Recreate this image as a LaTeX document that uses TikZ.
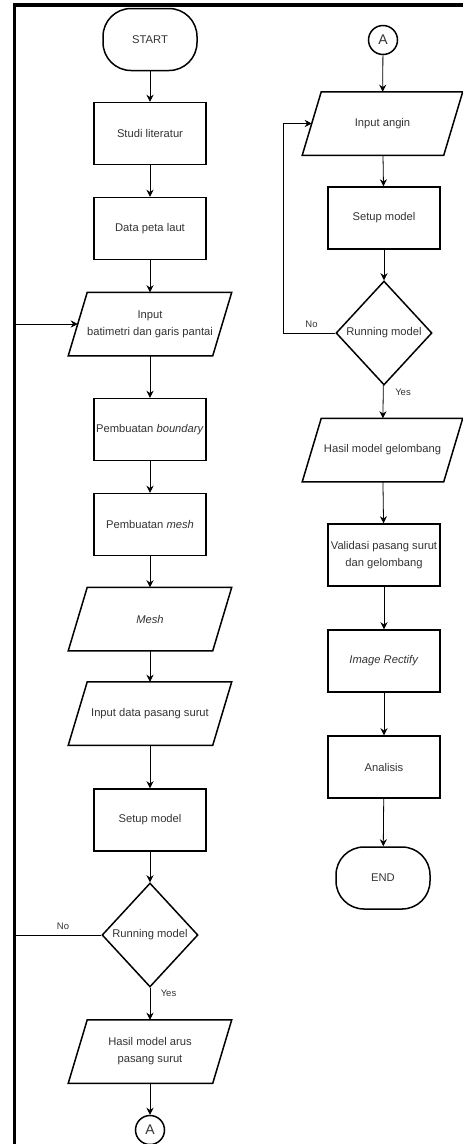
\documentclass[tikz,border=0pt]{standalone}
\usepackage{fontspec}
\setmainfont{Liberation Sans}
\usetikzlibrary{shapes.geometric,arrows.meta,calc}
\definecolor{txt}{HTML}{333333}
\begin{document}
\begin{tikzpicture}[x=1pt,y=-1pt]
\tikzset{
 base/.style={font=\fontsize{11.2}{17}\selectfont, text=txt, align=center, line width=1.5pt},
 procbox/.style={base, draw, rectangle, minimum width=112pt, minimum height=62pt, inner sep=1pt},
 termbox/.style={base, draw, rectangle, rounded corners=28pt, minimum width=94pt, minimum height=62pt},
 iobox/.style={base, rectangle, minimum width=143pt, minimum height=62pt, inner sep=1pt},
 decbox/.style={base, draw, diamond, minimum width=96pt, minimum height=104pt, inner sep=0pt},
 conn/.style={base, draw, circle, minimum size=29pt, inner sep=0pt, font=\fontsize{14}{16}\selectfont},
 arr/.style={draw=black, line width=0.8pt, -{Stealth[length=7pt,width=7pt]}},
 fbline/.style={draw=black, line width=0.8pt},
 lbl/.style={font=\fontsize{9.5}{11}\selectfont, text=txt},
 frame/.style={draw=black, line width=3.5pt, line join=miter},
 ioline/.style={draw=black, line width=1.5pt, line join=miter},
}
\useasboundingbox (0,0) rectangle (463,1144);
% frame
\draw[frame] (14.3,1146) -- (14.3,4.8) -- (465,4.8);

% left column
\node[termbox] (start) at (150,39.5) {START};
\node[procbox] (s1) at (150,133.5) {Studi literatur};
\node[procbox] (s2) at (150,228.5) {Data peta laut};
\node[iobox] (in1) at (150,324) {Input\\batimetri dan garis pantai};
\node[procbox] (s3) at (150,429.5) {Pembuatan \textit{boundary}};
\node[procbox] (s4) at (150,524.5) {Pembuatan \textit{mesh}};
\node[iobox] (mesh2) at (150,619) {\textit{Mesh}};
\node[iobox] (in2) at (150,713.5) {Input data pasang surut};
\node[procbox] (s5) at (150,820) {Setup model};
\node[decbox] (dec1) at (150,935) {\makebox[0pt]{Running model}};
\node[iobox] (out1) at (150,1051.5) {Hasil model arus\\pasang surut};
\node[conn] (ca1) at (150,1130) {A};

% right column
\node[conn] (ca2) at (383,40) {A};
\node[iobox, minimum width=140pt] (in3) at (382.5,123.5) {Input angin};
\node[procbox] (r1) at (384,218) {Setup model};
\node[decbox] (dec2) at (384,333) {\makebox[0pt]{Running model}};
\node[iobox, minimum width=140pt] (out2) at (382.5,450) {Hasil model gelombang};
\node[procbox] (r2) at (384,555) {Validasi pasang surut\\dan gelombang};
\node[procbox] (r3) at (384,661) {\textit{Image Rectify}};
\node[procbox] (r4) at (384,767) {Analisis};
\node[termbox] (fin) at (383,878) {END};

% parallelogram outlines
\foreach \n in {in1,mesh2,in2,out1,in3,out2}{
  \draw[ioline] ([xshift=9.5pt]\n.north west) -- ([xshift=9.5pt]\n.north east)
    -- ([xshift=-9.5pt]\n.south east) -- ([xshift=-9.5pt]\n.south west) -- cycle;
}

% left connectors
\draw[arr] (start) -- (s1);
\draw[arr] (s1) -- (s2);
\draw[arr] (s2) -- (in1);
\draw[arr] (in1) -- (s3);
\draw[arr] (s3) -- (s4);
\draw[arr] (s4) -- (mesh2);
\draw[arr] (mesh2) -- (in2);
\draw[arr] (in2) -- (s5);
\draw[arr] (s5) -- (dec1);
\draw[arr] (dec1) -- (out1);
\draw[arr] (out1) -- (ca1);
\coordinate (fb1) at (15,935);
\draw[arr] (dec1.west) -- (fb1) |- (in1.west);
\node[lbl] at (63,926) {No};
\node[lbl] at (168.5,993) {Yes};

% right connectors
\draw[arr] (ca2) -- (in3);
\draw[arr] (in3) -- (r1);
\draw[arr] (r1) -- (dec2);
\draw[arr] (dec2) -- (out2);
\draw[arr] (out2) -- (r2);
\draw[arr] (r2) -- (r3);
\draw[arr] (r3) -- (r4);
\draw[arr] (r4) -- (fin);
\coordinate (fb2) at (283,333);
\draw[arr] (dec2.west) -- (fb2) |- (in3.west);
\node[lbl] at (311.5,324) {No};
\node[lbl] at (403,392) {Yes};
\end{tikzpicture}
\end{document}
